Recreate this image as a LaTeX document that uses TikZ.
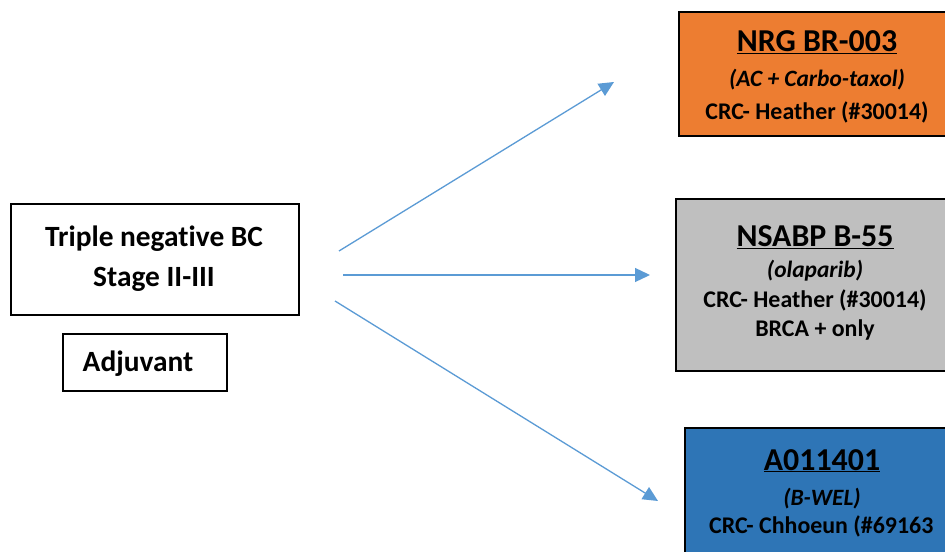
\documentclass[tikz,border=0pt]{standalone}
\usepackage{fontspec}
\setmainfont{Carlito}[Ligatures=NoCommon]
\usetikzlibrary{arrows.meta}
\definecolor{orangebox}{HTML}{ED7D31}
\definecolor{graybox}{HTML}{BFBFBF}
\definecolor{bluebox}{HTML}{2E75B6}
\definecolor{arrowblue}{HTML}{5B9BD5}
\tikzset{
  x=1bp, y=-1bp,
  box/.style={draw=black, line width=2bp, rectangle, anchor=north west, inner sep=0pt},
  lbl/.style={anchor=base, inner sep=0pt, font=\bfseries\fontsize{24}{28}\selectfont},
  ttl/.style={anchor=base, inner sep=0pt, font=\bfseries\fontsize{32}{38}\selectfont},
  itl/.style={anchor=base, inner sep=0pt, font=\bfseries\itshape\fontsize{23.5}{28}\selectfont},
  big/.style={anchor=base, inner sep=0pt, font=\bfseries\fontsize{29.5}{35}\selectfont},
  conn/.style={draw=arrowblue, line width=1.3bp, -{Triangle[length=15bp,width=14bp]}}
}
\begin{document}
\begin{tikzpicture}
\clip (0,0) rectangle (945,552);
\fill[white] (0,0) rectangle (945,552);
% left boxes
\node[box, minimum width=288bp, minimum height=111bp] (tn) at (10,203) {};
\node[big] (tn1) at (154,247) {Triple negative BC};
\node[big] (tn2) at (154,287) {Stage II-III};
\node[box, minimum width=164bp, minimum height=57bp] (adj) at (62,333) {};
\node[big] (adj1) at (138,372) {Adjuvant};
% orange box
\node[box, fill=orangebox, minimum width=280bp, minimum height=124bp] (nrg) at (678,11) {};
\node[ttl] (nrg1) at (817,52) {\underline{NRG BR-003}};
\node[itl] (nrg2) at (817,87) {(AC + Carbo-taxol)};
\node[lbl] (nrg3) at (817,120) {CRC- Heather (\#30014)};
% gray box
\node[box, fill=graybox, minimum width=282bp, minimum height=172bp] (nsabp) at (675,198) {};
\node[ttl] (ns1) at (815,247) {\underline{NSABP B-55}};
\node[itl] (ns2) at (815,278) {(olaparib)};
\node[lbl] (ns3) at (815,308) {CRC- Heather (\#30014)};
\node[lbl] (ns4) at (815,337) {BRCA + only};
% blue box
\node[box, fill=bluebox, minimum width=280bp, minimum height=140bp] (alli) at (684,427) {};
\node[ttl] (al1) at (822,470) {\underline{A011401}};
\node[itl] (al2) at (822,505) {(B-WEL)};
\node[lbl, anchor=base west] (al3) at (709,533) {CRC- Chhoeun (\#69163};
% connectors
\coordinate (s1) at (339,251);
\coordinate (e1) at (614,82);
\coordinate (s2) at (343,275);
\coordinate (e2) at (650,275);
\coordinate (s3) at (335,301);
\coordinate (e3) at (658,501);
\draw[conn] (s1) -- (e1);
\draw[conn] (s2) -- (e2);
\draw[conn] (s3) -- (e3);
\end{tikzpicture}
\end{document}
